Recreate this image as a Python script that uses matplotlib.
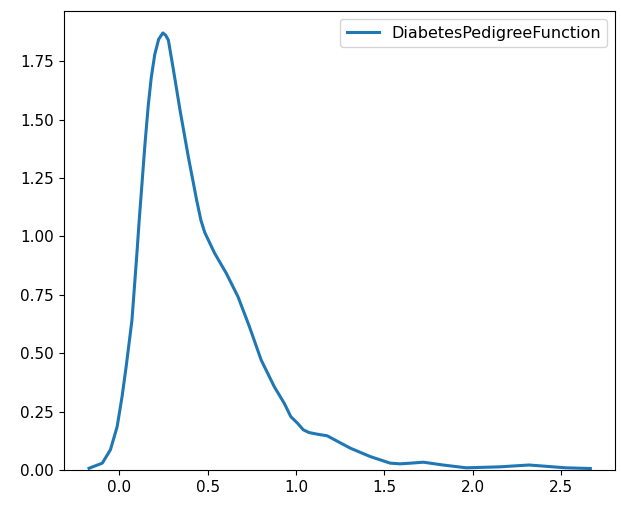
import matplotlib
matplotlib.use("Agg")
import matplotlib.pyplot as plt

# density curve (x, density)
dpf_x = [-0.172, -0.097, -0.051, -0.013, 0.015, 0.038, 0.071, 0.099, 0.112, 0.128,
         0.145, 0.163, 0.18, 0.20, 0.222, 0.246, 0.262, 0.277, 0.306, 0.343, 0.39,
         0.437, 0.461, 0.483, 0.539, 0.605, 0.671, 0.736, 0.802, 0.839, 0.876,
         0.933, 0.97, 1.008, 1.04, 1.073, 1.12, 1.176, 1.24, 1.307, 1.42, 1.532,
         1.588, 1.65, 1.72, 1.831, 1.963, 2.15, 2.318, 2.525, 2.665]
dpf_y = [0.007, 0.029, 0.086, 0.185, 0.314, 0.442, 0.642, 0.928, 1.07, 1.23,
         1.40, 1.56, 1.68, 1.78, 1.845, 1.872, 1.862, 1.841, 1.712, 1.541, 1.341,
         1.156, 1.07, 1.017, 0.928, 0.842, 0.742, 0.613, 0.471, 0.414, 0.357,
         0.285, 0.228, 0.2, 0.172, 0.16, 0.153, 0.146, 0.12, 0.093, 0.057, 0.029,
         0.026, 0.029, 0.033, 0.021, 0.009, 0.013, 0.021, 0.009, 0.006]

fig = plt.figure(figsize=(6.21, 5.08), dpi=100)
ax = fig.add_axes([0.103, 0.075, 0.888, 0.903])

ax.plot(dpf_x, dpf_y, color="#1f77b4", lw=2.2, label="DiabetesPedigreeFunction")
ax.set_ylim(0, None)
ax.set_xticks([0.0, 0.5, 1.0, 1.5, 2.0, 2.5])
ax.set_yticks([0, 0.25, 0.5, 0.75, 1.0, 1.25, 1.5, 1.75])
ax.yaxis.set_major_formatter(matplotlib.ticker.FormatStrFormatter("%.2f"))
ax.tick_params(labelsize=11)
ax.legend(loc="upper right", fontsize=11.5)

fig.savefig("out.png", dpi=100)
